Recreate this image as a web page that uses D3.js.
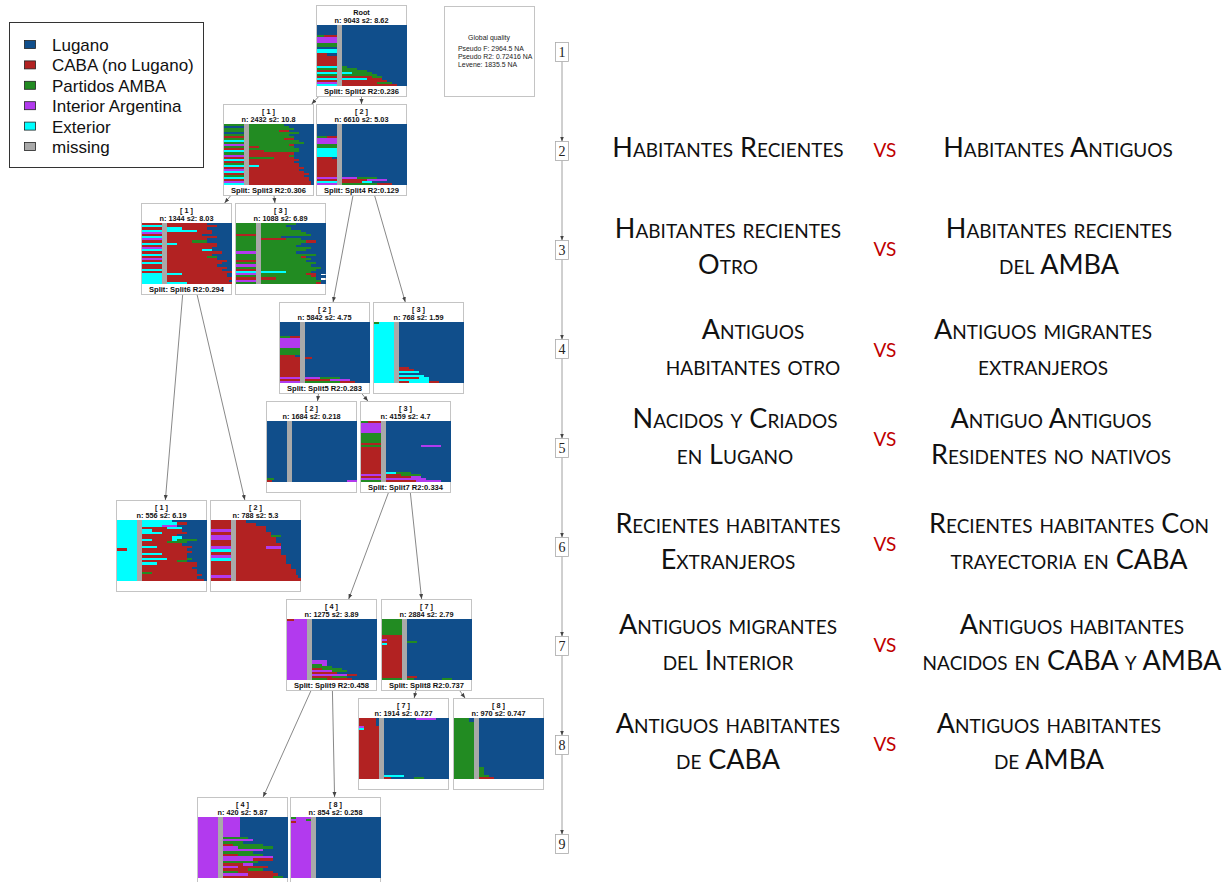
<!DOCTYPE html>
<html><head><meta charset="utf-8">
<script src="https://cdn.jsdelivr.net/npm/d3@7"></script>
<style>
  body { margin: 0; background: #fff; }
  svg { display: block; }
</style></head>
<body>
<svg id="chart" width="1231" height="882"></svg>
<script>
// ---- states (alphabet of the sequences) ----
const stateCodes  = ["L", "C", "P", "I", "E", "M"];
const stateNames  = ["Lugano", "CABA (no Lugano)", "Partidos AMBA", "Interior Argentina", "Exterior", "missing"];
const stateColors = ["#104E8B", "#B22222", "#228B22", "#B23AEE", "#00FFFF", "#A9A9A9"];
const nPositions = 36;

// ---- tree nodes ----
const nodeIds     = ["root","a1","a2","a1_1","a1_3","a2_2","a2_3","b2","b3","c1","c2","d4","d7","e7","e8","f4","f8"];
const nodeParents = [null,"root","root","a1","a1","a2","a2","a2_2","a2_2","a1_1","a1_1","b3","b3","d7","d7","d4","d4"];
const nodeLevels  = [1,2,2,3,3,4,4,5,5,6,6,7,7,8,8,9,9];
const nodeTitles  = ["Root","[ 1 ]","[ 2 ]","[ 1 ]","[ 3 ]","[ 2 ]","[ 3 ]","[ 2 ]","[ 3 ]","[ 1 ]","[ 2 ]","[ 4 ]","[ 7 ]","[ 7 ]","[ 8 ]","[ 4 ]","[ 8 ]"];
const nodeN       = [9043,2432,6610,1344,1088,5842,768,1684,4159,556,788,1275,2884,1914,970,420,854];
const nodeS2      = ["8.62","10.8","5.03","8.03","6.89","4.75","1.59","0.218","4.7","6.19","5.3","3.89","2.79","0.727","0.747","5.87","0.258"];
const nodeSplits  = ["Split: Split2 R2:0.236","Split: Split3 R2:0.306","Split: Split4 R2:0.129","Split: Split6 R2:0.294","",
                     "Split: Split5 R2:0.283","","","Split: Split7 R2:0.334","","","Split: Split9 R2:0.458","Split: Split8 R2:0.737","","","",""];

// ---- sequences of each node, top row first ("k*" repeats a row) ----
const seqRoot = ["5*L8M2L26","P3C5M2L26","3*I8M2L26","2*P8M2L26","L8M2L26","2*E8M2L26","C4L4M2L26","5*C8M2L26",
  "E8M2P2L24","P8M2P6L20","C8M2P10L16","E8M2E4P8L14","P8M2P14L12","C8M2C12P4L10","E8M2E10C6L10","C8M2C18L8","I8M2C14P6L6","E8M2C22L4"];
const seqA1 = ["P8M2P14L12","L8M2P16L10","P8M2P18L8","P8M2P12C4L10","L8M2P20L6","P8M2P16L10","C8M2P18L8","P8M2P14C4L8","E8M2P20L6",
  "P8M2P22L4","I8M2P16C2L8","P8M2C4P14L8","C8M2P20L6","E8M2C6P14L6","P8M2C18L8","I8M2C16P2L8","C8M2P10C8L8","E8M2C20L6",
  "C8M2C18L8","P8M2C20L6","E8M2E4C16L6","C8M2C22L4","I8M2C20L6","E8M2C22L4","C8M2C24L2","P8M2C22L4","E8M2C24L2","C8M2C24L2",
  "I8M2C25L1","E8M2C25L1"];
const seqA2 = ["6*L8M2L26","P4C4M2L26","3*I8M2L26","2*P8M2L26","4*E8M2L26","C6L2M2L26","9*C8M2L26",
  "I8M2I6P8L12","C8M2C10I8L8","E8M2C8E4L14","I8M2P14C6L6"];
const seqA1_1 = ["C8M2C16L10","E8M2C20L6","C8M2E6C10L10","E8M2E12C6L8","I8M2C18L8","C8M2C14L12","E8M2C20L6","I8M2C16L10",
  "C8M2C10P6L10","E8M2E4C16L6","C8M2C20L6","I8M2C18L8","E8M2C14E4L8","C8M2C22L4","E8M2C18L8","C8M2C16P4L6","I8M2C20L6",
  "C8M2C24L2","E8M2C22L4","C8M2C20L6","C8M2C24L2","E8M2C22L4","C8M2C26","E8M2E6C18L2","E8M2C24L2","E8M2C26","E8M2C25L1","E8M2E8C18"];
const seqA1_3 = ["P8M2P14L12","P8M2P10L16","P8M2P12L14","P8M2P16L10","P8M2P18L8","C8M2P20L6","P8M2P8L18","P8M2C10P6L10",
  "P8M2P18C4L4","P8M2P16L10","P8M2P14L12","P8M2P20L6","P8M2P18L8","I8M2P14L12","P8M2P22L4","P8M2P16C2L8","P8M2P20L6",
  "C8M2P18L8","P8M2P22L4","I8M2P20L6","P8M2P24L2","C8M2P22L4","E8M2E10P10L6","I8M2P18C4L2","P8M2P20C2L4","C8M2C6P16L2",
  "I8M2P24L2","P8M2P22C2L2"];
const seqA2_2 = ["7*L8M2L26","P4C4M2L26","5*I8M2L26","3*P8M2L26","C6L2M2L26","C8M2C3L23","9*C8M2L26",
  "I8M2I6P8L12","C8M2C10I8L8","I8M2P14C6L6"];
const seqA2_3 = ["P2E6M2L26","21*E8M2L26","E8M2C4L22","E8M2C6L20","E8M2E8L18","E8M2L26","E8M2E10L16","E8M2C8E4L14",
  "E8M2E12L14","E8M2C4E8C4L10"];
const seqB2 = ["28*L8M2L26","P3L5M2L26","C2L6M2L22I4"];
const seqB3 = ["P3C5M2L26","5*I8M2L26","5*P8M2L26","C8M2L26","P8M2L14I8L4","12*C8M2L26",
  "C8M2E4P6L16","I8M2C6P8L12","C8M2C10I4L12","I8M2I16L10","P8M2C12I10L4"];
const seqC1 = ["E8M2E12L14","E8M2E14C4L8","E8M2E8I6L12","E8M2C10E6L10","E8M2E4C12L10","E8M2E8C10L8","E8M2C14L12",
  "E8M2C12E4L10","E8M2E4C8E2P8L4","E8M2C10P8L8","E8M2C16L10","E8M2E6C14L6","C4E4M2C18L8","E8M2C20L6","E8M2E8C10L8",
  "E8M2C18L8","E8M2E10C8P2L6","E8M2C14P4L8","E8M2E6C16L4","E8M2C22L4","E8M2C20L6","E8M2C22L4","E8M2P4C18L4",
  "E8M2C24L2","E8M2C22L4","E8M2C25L1"];
const seqC2 = ["C8M2C4L22","C8M2C8L18","C8M2C12L14","I8M2C12L14","C8M2C14L12","I8M2C14P4L8","I8M2C16L10","C8M2C16L10",
  "C8M2C18L8","I8M2C12I6L8","E8M2C18L8","C8M2C18L8","I8M2C20L6","E8M2C20L6","C8M2C20L6","C8M2C22L4","C8M2C22L4",
  "C8M2C24L2","C8M2C24L2","I8M2C25L1","C8M2C26"];
const seqD4 = ["C3I5M2L26","19*I8M2L26","I8M2I6L20","I8M2I6L20","I8M2P4I2L20","I8M2P8L18","I8M2C4P8L14","I8M2I8P6L12",
  "I8M2C10L16","I8M2I14C4L8","I8M2C8P6L12","I8M2P6C10L10"];
const seqD7 = ["8*P8M2L26","2*C8M2L26","I2C6M2L26","C8M2P4L22","E2C6M2L26","15*C8M2L26","C8M2C4L22","P8M2P3L11P4L8"];
const seqE7 = ["C7L1M2L13I8L5","3*C7L1M2L26","I2C6M2L26","E2C6M2L26","22*C8M2L26","C8M2E8L18","C8M2C3L9P4L10"];
const seqE8 = ["2*P6L2M2L26","22*P8M2L26","4*P8M2P2L24","P8M2P4L22","P8M2C6L20"];
const seqF4 = ["8*I8M2I7L19","I8M2P10L16","I8M2I12L14","I8M2P8L18","I8M2C4P12L10","I8M2I6P14L6","I8M2I16L10","I8M2P12L14",
  "I8M2C6P10L10","I8M2I20L6","I8M2I12C8L6","I8M2P14L12","I8M2C8I4L14","I8M2I6C12L8","I8M2C10P6L10","I8M2P6C14L6",
  "I8M2I10C12L4","I8M2C20P4L2"];
const seqF8 = ["P2I6M2L26","I6P2M2L26","C2I6M2L26","27*I8M2L26"];
const nodeSequences = [seqRoot,seqA1,seqA2,seqA1_1,seqA1_3,seqA2_2,seqA2_3,seqB2,seqB3,seqC1,seqC2,seqD4,seqD7,seqE7,seqE8,seqF4,seqF8];

// ---- global quality ----
const qualityTitle = "Global quality";
const qualityLines = ["Pseudo F: 2964.5 NA", "Pseudo R2: 0.72416 NA", "Levene: 1835.5 NA"];

// ---- level axis and interpretation labels ----
const levelTicks = [1,2,3,4,5,6,7,8,9];
const leftLabels  = [["Habitantes Recientes"],["Habitantes recientes","Otro"],["Antiguos","habitantes otro"],
  ["Nacidos y Criados","en Lugano"],["Recientes habitantes","Extranjeros"],["Antiguos migrantes","del Interior"],
  ["Antiguos habitantes","de CABA"]];
const rightLabels = [["Habitantes Antiguos"],["Habitantes recientes","del AMBA"],["Antiguos migrantes","extranjeros"],
  ["Antiguo Antiguos","Residentes no nativos"],["Recientes habitantes Con","trayectoria en CABA"],
  ["Antiguos habitantes","nacidos en CABA y AMBA"],["Antiguos habitantes","de AMBA"]];
const labelSep = "vs";

// ================= layout =================
const nodeLeft = [316,223,316,141,235,279,373,266,360,116,210,286,381,358,453,197,290];
const levelTop = l => 5 + 99 * (l - 1);
const boxW = 91, boxH = 92, plotOff = 20, plotH = 61;
const labelRowY = [148, 247, 348, 437, 542, 643, 742];
const leftCx  = [728, 728, 753, 735, 728, 728, 728];
const rightCx = [1058, 1059, 1043, 1051, 1069, 1072, 1049];
const vsCx = 885;
const axisX = 562;

const svg = d3.select("#chart");
const colorOf = d3.scaleOrdinal().domain(stateCodes).range(stateColors);

svg.append("defs").append("marker")
  .attr("id", "arrow").attr("viewBox", "0 0 10 10").attr("refX", 10).attr("refY", 5)
  .attr("markerWidth", 5).attr("markerHeight", 5).attr("markerUnits", "userSpaceOnUse")
  .attr("orient", "auto")
  .append("path").attr("d", "M0,1 L10,5 L0,9 Z").attr("fill", "#444");

function parseRows(list) {
  const rows = [];
  list.forEach(str => {
    const m = str.match(/^(\d+)\*(.*)$/);
    const times = m ? +m[1] : 1;
    const body = m ? m[2] : str;
    const runs = [];
    let t = 0;
    body.replace(/([LCPIEM])(\d+)/g, (_, s, n) => { runs.push({ state: s, start: t, len: +n }); t += +n; return ""; });
    for (let k = 0; k < times; k++) rows.push(runs);
  });
  return rows;
}

const nodes = nodeIds.map((id, i) => ({
  id, parent: nodeParents[i], level: nodeLevels[i], title: nodeTitles[i],
  n: nodeN[i], s2: nodeS2[i], split: nodeSplits[i], rows: parseRows(nodeSequences[i]),
  x: nodeLeft[i], y: levelTop(nodeLevels[i])
}));
const byId = new Map(nodes.map(d => [d.id, d]));

// ---- edges: centre-to-centre lines clipped at the boxes ----
const edgeG = svg.append("g");
nodes.filter(d => d.parent).forEach(c => {
  const p = byId.get(c.parent);
  const px = p.x + boxW / 2, py = p.y + boxH / 2;
  const cx = c.x + boxW / 2, cy = c.y + boxH / 2;
  const t1 = (p.y + boxH - py) / (cy - py), t2 = (c.y - py) / (cy - py);
  edgeG.append("line")
    .attr("x1", px + (cx - px) * t1).attr("y1", p.y + boxH)
    .attr("x2", px + (cx - px) * t2).attr("y2", c.y)
    .attr("stroke", "#555").attr("stroke-width", 0.7).attr("marker-end", "url(#arrow)");
});

// ---- node panels with index plots ----
const x = d3.scaleLinear().domain([0, nPositions]).range([0, boxW - 1]);
const nodeFont = "Liberation Sans, Arial, sans-serif";
nodes.forEach(d => {
  const g = svg.append("g").attr("transform", `translate(${d.x},${d.y})`);
  g.append("rect").attr("x", 0.5).attr("y", 0.5).attr("width", boxW - 1).attr("height", boxH - 1)
    .attr("fill", "#fff").attr("stroke", "#c4c4c4").attr("stroke-width", 1);
  g.append("text").attr("x", boxW / 2).attr("y", 9.5).attr("text-anchor", "middle")
    .attr("font-family", nodeFont).attr("font-weight", "bold").attr("font-size", 7.3)
    .attr("fill", "#111").text(d.title);
  g.append("text").attr("x", boxW / 2).attr("y", 17.5).attr("text-anchor", "middle")
    .attr("font-family", nodeFont).attr("font-weight", "bold").attr("font-size", 7.3)
    .attr("fill", "#111").text(`n: ${d.n} s2: ${d.s2}`);
  if (d.split) {
    g.append("text").attr("x", boxW / 2).attr("y", boxH - 3.5).attr("text-anchor", "middle")
      .attr("font-family", nodeFont).attr("font-weight", "bold").attr("font-size", 7.6)
      .attr("fill", "#111").text(d.split);
  }
  const y = d3.scaleBand().domain(d3.range(d.rows.length)).range([0, plotH]);
  const plot = g.append("g").attr("transform", `translate(0.5,${plotOff})`).attr("shape-rendering", "crispEdges");
  d.rows.forEach((runs, r) => {
    plot.selectAll(null).data(runs).enter().append("rect")
      .attr("x", s => x(s.start)).attr("width", s => x(s.start + s.len) - x(s.start))
      .attr("y", y(r)).attr("height", y.bandwidth() + 0.4)
      .attr("fill", s => colorOf(s.state));
  });
});

// ---- global quality box ----
const q = svg.append("g").attr("transform", "translate(444,6)");
q.append("rect").attr("x", 0.5).attr("y", 0.5).attr("width", 90).attr("height", 90)
  .attr("fill", "#fff").attr("stroke", "#c4c4c4");
q.append("text").attr("x", 45).attr("y", 34).attr("text-anchor", "middle")
  .attr("font-family", nodeFont).attr("font-size", 6.9).attr("fill", "#222").text(qualityTitle);
q.selectAll(null).data(qualityLines).enter().append("text")
  .attr("x", 14).attr("y", (d, i) => 45 + i * 8)
  .attr("font-family", nodeFont).attr("font-size", 6.9).attr("fill", "#222").text(d => d);

// ---- legend ----
const lg = svg.append("g").attr("transform", "translate(9,22)");
lg.append("rect").attr("x", 0.5).attr("y", 0.5).attr("width", 194).attr("height", 145)
  .attr("fill", "#fff").attr("stroke", "#333");
const ly = d3.scalePoint().domain(stateNames).range([23, 125]);
stateNames.forEach((name, i) => {
  lg.append("rect").attr("x", 15.5).attr("y", ly(name) - 4.5).attr("width", 11).attr("height", 8)
    .attr("fill", stateColors[i]).attr("stroke", "#222").attr("stroke-width", 0.8);
  lg.append("text").attr("x", 43).attr("y", ly(name) + 6)
    .attr("font-family", nodeFont).attr("font-size", 17).attr("fill", "#111").text(name);
});

// ---- level axis ----
const levelY = d3.scaleLinear().domain([1, 9]).range([levelTop(1) + 47, levelTop(9) + 47]);
const tickH = 19, tickW = 13;
const ax = svg.append("g");
levelTicks.slice(0, -1).forEach(l => {
  ax.append("line").attr("x1", axisX).attr("x2", axisX)
    .attr("y1", levelY(l) + tickH / 2).attr("y2", levelY(l + 1) - tickH / 2)
    .attr("stroke", "#888").attr("stroke-width", 0.8).attr("marker-end", "url(#arrow)");
});
levelTicks.forEach(l => {
  ax.append("rect").attr("x", axisX - tickW / 2).attr("y", levelY(l) - tickH / 2)
    .attr("width", tickW).attr("height", tickH).attr("fill", "#fff").attr("stroke", "#aaa").attr("stroke-width", 0.8);
  ax.append("text").attr("x", axisX).attr("y", levelY(l) + 5).attr("text-anchor", "middle")
    .attr("font-family", "Liberation Serif, Times New Roman, serif").attr("font-size", 14).attr("fill", "#222").text(l);
});

// ---- interpretation labels ----
const lab = svg.append("g").attr("font-family", "Lato, 'Open Sans', sans-serif")
  .attr("font-size", 27).style("font-variant", "small-caps");
const lineGap = 36;
function drawLines(lines, cx, cy) {
  const n = lines.length;
  lines.forEach((t, j) => {
    lab.append("text").attr("x", cx).attr("y", cy + (j - (n - 1) / 2) * lineGap + 9)
      .attr("text-anchor", "middle").attr("fill", "#111").text(t);
  });
}
leftLabels.forEach((lines, i) => {
  drawLines(lines, leftCx[i], labelRowY[i]);
  drawLines(rightLabels[i], rightCx[i], labelRowY[i]);
  lab.append("text").attr("x", vsCx).attr("y", labelRowY[i] + 9).attr("text-anchor", "middle")
    .attr("fill", "#C00000").text(labelSep);
});
</script>
</body></html>
